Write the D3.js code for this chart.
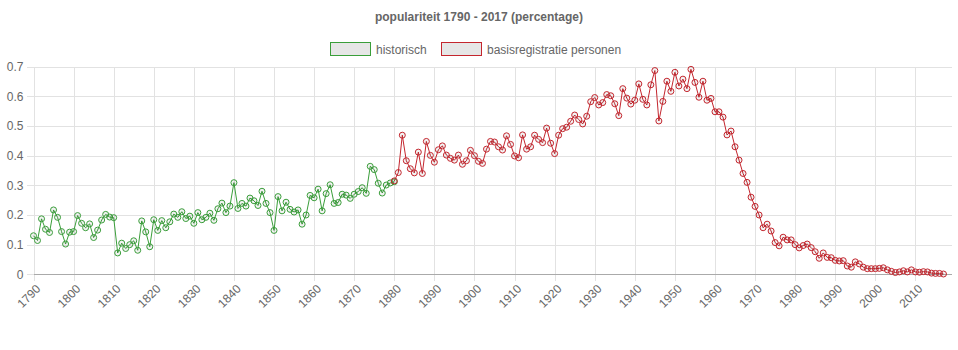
<!DOCTYPE html>
<html><head><meta charset="utf-8">
<script src="https://cdn.jsdelivr.net/npm/d3@7/dist/d3.min.js"></script>
<style>
body{margin:0;background:#fff}
svg{display:block}
text{font-family:"Liberation Sans",Arial,Helvetica,sans-serif}
</style>
</head><body>
<svg id="c" width="958" height="350"></svg>
<script>
const chartTitle = "populariteit 1790 - 2017 (percentage)";
const seriesNames = ["historisch", "basisregistratie personen"];
const seriesColors = ["#3a9e3a", "#c4262e"];
const labelStart = 1790, labelEnd = 2019;
const xTickLabels = [1790,1800,1810,1820,1830,1840,1850,1860,1870,1880,1890,1900,1910,1920,1930,1940,1950,1960,1970,1980,1990,2000,2010];
const yTickLabels = [0,0.1,0.2,0.3,0.4,0.5,0.6,0.7];

const historischStart = 1790;
const historischValues = [
0.13,0.114,0.187,0.152,0.141,0.217,0.192,0.144,0.102,0.142,
0.144,0.198,0.172,0.157,0.17,0.124,0.149,0.183,0.202,0.193,
0.191,0.072,0.105,0.087,0.1,0.113,0.081,0.18,0.143,0.093,
0.184,0.148,0.181,0.157,0.177,0.203,0.192,0.211,0.188,0.196,
0.172,0.208,0.184,0.192,0.206,0.182,0.221,0.24,0.208,0.23,
0.309,0.222,0.239,0.23,0.257,0.248,0.232,0.28,0.239,0.208,
0.148,0.262,0.214,0.243,0.219,0.21,0.217,0.169,0.2,0.266,
0.258,0.287,0.214,0.272,0.302,0.239,0.242,0.27,0.267,0.256,
0.27,0.279,0.292,0.273,0.364,0.353,0.307,0.274,0.301,0.308,
0.312];

const basisStart = 1880;
const basisValues = [
0.315,0.343,0.469,0.383,0.356,0.342,0.412,0.34,0.448,0.401,
0.378,0.42,0.433,0.402,0.391,0.385,0.402,0.371,0.383,0.418,
0.4,0.381,0.374,0.422,0.448,0.446,0.43,0.419,0.467,0.438,
0.399,0.393,0.47,0.422,0.43,0.469,0.455,0.444,0.493,0.442,
0.407,0.469,0.491,0.496,0.516,0.537,0.522,0.507,0.533,0.582,
0.596,0.571,0.579,0.606,0.602,0.575,0.535,0.626,0.594,0.574,
0.587,0.642,0.59,0.571,0.639,0.687,0.517,0.583,0.651,0.617,
0.681,0.635,0.658,0.626,0.691,0.647,0.597,0.651,0.587,0.593,
0.548,0.548,0.53,0.47,0.483,0.43,0.385,0.34,0.31,0.26,
0.229,0.2,0.157,0.169,0.146,0.107,0.096,0.125,0.116,0.116,
0.1,0.089,0.097,0.102,0.09,0.076,0.054,0.072,0.057,0.056,
0.047,0.045,0.046,0.028,0.024,0.042,0.035,0.024,0.019,0.019,
0.019,0.02,0.022,0.015,0.01,0.006,0.008,0.012,0.008,0.015,
0.008,0.007,0.009,0.008,0.004,0.003,0.003,0.001];

const plotLeft = 33.5, plotRight = 951.5, plotTop = 66.7, plotBottom = 274.3;
const svg = d3.select("#c");

const x = d3.scaleLinear().domain([labelStart, labelEnd]).range([plotLeft, plotRight]);
const y = d3.scaleLinear().domain([0, 0.7]).range([plotBottom, plotTop]);

// title
svg.append("text").attr("x", 479).attr("y", 21)
  .attr("text-anchor", "middle").attr("font-size", 12).attr("font-weight", "bold")
  .attr("fill", "#666").text(chartTitle);

// legend
const legendX = [330.5, 441.5];
seriesNames.forEach((n, i) => {
  const g = svg.append("g");
  g.append("rect").attr("x", legendX[i]).attr("y", 42.5).attr("width", 40).attr("height", 13)
    .attr("fill", "#e6e6e6").attr("stroke", seriesColors[i]).attr("stroke-width", 1);
  g.append("text").attr("x", legendX[i] + 45.5).attr("y", 53.5)
    .attr("font-size", 12).attr("fill", "#666").text(n);
});

// y axis with gridlines
const yAx = svg.append("g").attr("transform", `translate(${plotLeft - 7},0)`)
  .call(d3.axisLeft(y).tickValues(yTickLabels).tickSize(-(plotRight - plotLeft + 7)).tickPadding(3)
    .tickFormat(d => String(+d.toFixed(1))));
yAx.select(".domain").remove();
yAx.selectAll("line").attr("stroke", "#e2e2e2").attr("shape-rendering", "crispEdges");
yAx.selectAll("text").attr("font-size", 12).attr("fill", "#666")
  .attr("font-family", "Liberation Sans, Arial, sans-serif");

// x axis with gridlines
const xAx = svg.append("g").attr("transform", `translate(0,${plotBottom + 7})`)
  .call(d3.axisBottom(x).tickValues(xTickLabels).tickSize(-(plotBottom + 7 - plotTop)).tickFormat(d3.format("d")));
xAx.select(".domain").remove();
xAx.selectAll("line").attr("stroke", "#e2e2e2").attr("shape-rendering", "crispEdges");
xAx.selectAll("text").attr("font-size", 12).attr("fill", "#666")
  .attr("font-family", "Liberation Sans, Arial, sans-serif")
  .attr("text-anchor", "end").attr("dy", null).attr("y", 0)
  .attr("transform", "translate(5,6) rotate(-45)").attr("dominant-baseline", "middle");

// baseline
svg.append("line").attr("x1", plotLeft).attr("x2", plotRight).attr("y1", y(0)).attr("y2", y(0))
  .attr("stroke", "#aaa").attr("shape-rendering", "crispEdges");

const allSeries = [
  historischValues.map((v, i) => ({year: historischStart + i, v})),
  basisValues.map((v, i) => ({year: basisStart + i, v}))
];
const line = d3.line().x(d => x(d.year)).y(d => y(d.v));

allSeries.forEach((data, i) => {
  svg.append("path").datum(data).attr("d", line)
    .attr("fill", "none").attr("stroke", seriesColors[i]).attr("stroke-width", 1);
});
allSeries.forEach((data, i) => {
  svg.append("g").selectAll("circle").data(data).join("circle")
    .attr("cx", d => x(d.year)).attr("cy", d => y(d.v)).attr("r", 3)
    .attr("fill", "rgba(0,0,0,0.05)").attr("stroke", seriesColors[i]).attr("stroke-width", 1);
});
</script>
</body></html>
